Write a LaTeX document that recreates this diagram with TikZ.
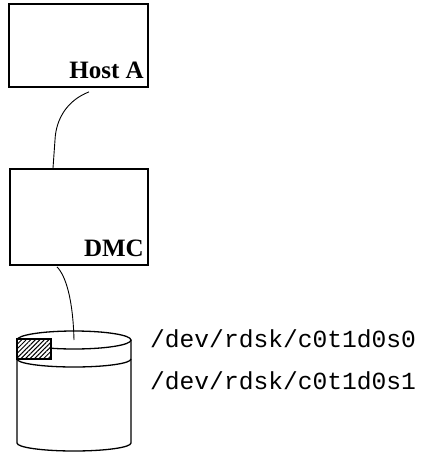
\documentclass[tikz,border=0pt]{standalone}
\usepackage{fontspec}
\setmainfont{Liberation Serif}
\setmonofont{Liberation Mono}
\usetikzlibrary{calc,patterns.meta}
\begin{document}
\begin{tikzpicture}[x=1pt,y=1pt,
  unitbox/.style={draw,line width=1.8pt,minimum width=139pt,inner sep=0pt},
  boxlabel/.style={font=\fontsize{25}{30}\selectfont\bfseries,inner sep=0pt,anchor=base east},
  cable/.style={line width=0.9pt},
  disk/.style={line width=1.3pt},
  devpath/.style={font=\fontsize{24.6}{29}\ttfamily,inner sep=0pt,anchor=base west}]
\useasboundingbox (0,0) rectangle (424,-452);

% host and controller boxes
\node[unitbox,minimum height=83pt] (host) at (78.5,-45.5) {};
\node[boxlabel] (hostlbl) at (144,-78) {Host A};
\node[unitbox,minimum width=138pt,minimum height=96pt] (dmc) at (79,-217) {};
\node[boxlabel] (dmclbl) at (144,-256) {DMC};

% disk drum
\coordinate (drum) at (74,-340);
\draw[disk] (drum) ellipse [x radius=57, y radius=9];
\draw[disk] ($(drum)+(-57,0)$) -- ($(drum)+(-57,-103)$)
  arc [start angle=180, end angle=360, x radius=57, y radius=8]
  -- ($(drum)+(57,0)$);
\draw[disk] ($(drum)+(-57,-19)$)
  arc [start angle=180, end angle=360, x radius=57, y radius=8];
\draw[line width=1.5pt,fill=white] (17,-339) rectangle (51,-359);
\fill[pattern={Lines[angle=45,distance=3.2pt,line width=1pt]}] (17,-339) rectangle (51,-359);
\draw[line width=1.5pt] (17,-339) rectangle (51,-359);

% cables
\coordinate (hostport) at ($(host.south)+(10.5,-4)$);
\coordinate (dmctop) at ($(dmc.north)+(-26,0)$);
\coordinate (dmcport) at ($(dmc.south)+(-22,-1)$);
\draw[cable] (hostport) .. controls (68,-100) and (56,-118) .. (55,-140) -- (dmctop);
\draw[cable] (dmcport) .. controls (66,-276) and (73,-300) .. (drum);

% device names
\node[devpath] (s0) at (150,-347) {/dev/rdsk/c0t1d0s0};
\node[devpath] (s1) at (150,-389) {/dev/rdsk/c0t1d0s1};
\end{tikzpicture}
\end{document}
